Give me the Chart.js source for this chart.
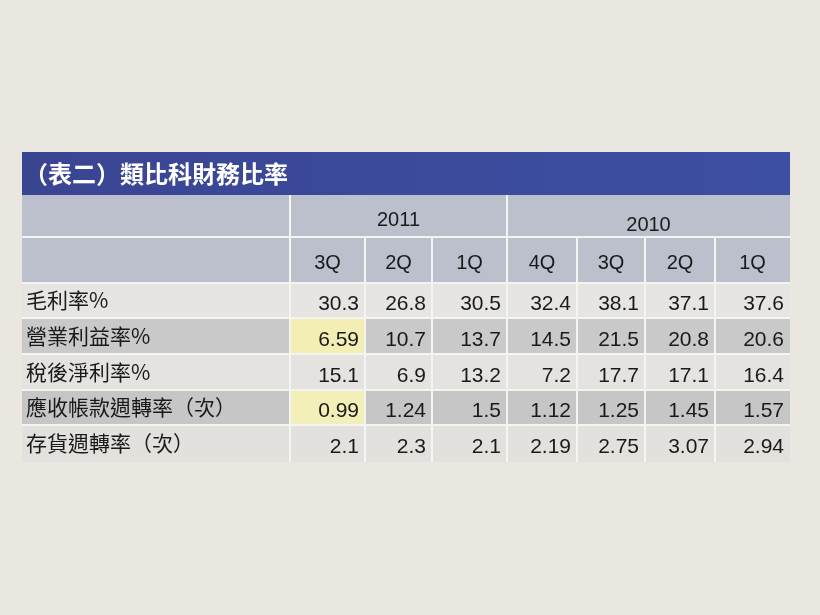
<!DOCTYPE html>
<html><head><meta charset="utf-8">
<script src="https://cdn.jsdelivr.net/npm/chart.js"></script>
<style>html,body{margin:0;padding:0;background:#e9e7df;}#c{display:block}</style>
</head><body>
<canvas id="c" width="820" height="615"></canvas>
<script>
const title = "（表二）類比科財務比率";
const years = ["2011", "2010"];
const quarters = ["3Q","2Q","1Q","4Q","3Q","2Q","1Q"];
const rowLabels = ["毛利率%","營業利益率%","稅後淨利率%","應收帳款週轉率（次）","存貨週轉率（次）"];
const grossMargin = ["30.3","26.8","30.5","32.4","38.1","37.1","37.6"];
const opMargin = ["6.59","10.7","13.7","14.5","21.5","20.8","20.6"];
const netMargin = ["15.1","6.9","13.2","7.2","17.7","17.1","16.4"];
const arTurnover = ["0.99","1.24","1.5","1.12","1.25","1.45","1.57"];
const invTurnover = ["2.1","2.3","2.1","2.19","2.75","3.07","2.94"];
const rows = [grossMargin, opMargin, netMargin, arTurnover, invTurnover];

// layout (scale units)
const colEdges = [22,290,365,432,507,577,645,715,790];
const rowEdges = [152,195,237,283,318,354,390,425,462];
const font = '"Noto Sans CJK TC","Noto Sans",sans-serif';
const numFont = '"Liberation Sans",Arial,sans-serif';

const pts = [];
rows.forEach((r,ri)=>r.forEach((v,ci)=>pts.push({x:(colEdges[ci+1]+colEdges[ci+2])/2,y:(rowEdges[ri+3]+rowEdges[ri+4])/2,t:v,ri,ci})));

const tablePlugin = {
  id:'table',
  beforeDatasetsDraw(chart){
    const ctx=chart.ctx, X=chart.scales.x, Y=chart.scales.y;
    const px=v=>X.getPixelForValue(v), py=v=>Y.getPixelForValue(v);
    const rect=(x0,y0,x1,y1,c)=>{ctx.fillStyle=c;ctx.fillRect(px(x0),py(y0),px(x1)-px(x0),py(y1)-py(y0));};
    ctx.save();
    const g=ctx.createLinearGradient(px(22),0,px(790),0);
    g.addColorStop(0,'#3a4592');g.addColorStop(1,'#3d4fa3');
    ctx.fillStyle=g;ctx.fillRect(px(22),py(152),px(790)-px(22),py(195)-py(152));
    ctx.fillStyle='#ffffff';ctx.font='bold 24px '+font;ctx.textBaseline='middle';ctx.textAlign='left';
    ctx.fillText(title,px(24),py(174));
    rect(22,195,790,283,'#bcc0cc');
    const rowCols=['#e6e5e1','#c9c9c9','#e4e3df','#c6c6c6','#e2e1dd'];
    for(let r=0;r<5;r++) rect(22,rowEdges[r+3],790,rowEdges[r+4],rowCols[r]);
    rect(290,318,365,354,'#f2eeb4');
    rect(290,390,365,425,'#f3efb8');
    ctx.strokeStyle='#f4f4f2';ctx.lineWidth=2;
    for(let i=3;i<rowEdges.length-1;i++){ctx.beginPath();ctx.moveTo(px(22),py(rowEdges[i]));ctx.lineTo(px(790),py(rowEdges[i]));ctx.stroke();}
    ctx.beginPath();ctx.moveTo(px(22),py(237));ctx.lineTo(px(790),py(237));ctx.stroke();
    [290,507].forEach(x=>{ctx.beginPath();ctx.moveTo(px(x),py(195));ctx.lineTo(px(x),py(462));ctx.stroke();});
    [365,432,577,645,715].forEach(x=>{ctx.beginPath();ctx.moveTo(px(x),py(237));ctx.lineTo(px(x),py(462));ctx.stroke();});
    ctx.fillStyle='#1a1a1a';ctx.font='20px '+numFont;ctx.textAlign='center';
    ctx.fillText(years[0],(px(290)+px(507))/2,py(220));
    ctx.fillText(years[1],(px(507)+px(790))/2,py(225));
    quarters.forEach((q,i)=>ctx.fillText(q,(px(colEdges[i+1])+px(colEdges[i+2]))/2,py(263)));
    ctx.textAlign='left';ctx.font='21px '+font;
    rowLabels.forEach((l,i)=>ctx.fillText(l,px(26),(py(rowEdges[i+3])+py(rowEdges[i+4]))/2));
    ctx.textAlign='right';ctx.font='21px '+numFont;
    pts.forEach(p=>ctx.fillText(p.t,px(colEdges[p.ci+2])-6,py(p.y)+4));
    ctx.restore();
  }
};

new Chart(document.getElementById('c'),{
  type:'scatter',
  data:{datasets:[{data:pts,pointRadius:0,pointHoverRadius:0}]},
  options:{
    responsive:false,animation:false,
    layout:{padding:0},
    plugins:{legend:{display:false},tooltip:{enabled:false}},
    scales:{
      x:{type:'linear',display:false,min:0,max:820},
      y:{type:'linear',display:false,min:0,max:615,reverse:true}
    }
  },
  plugins:[tablePlugin]
});
</script>
</body></html>
